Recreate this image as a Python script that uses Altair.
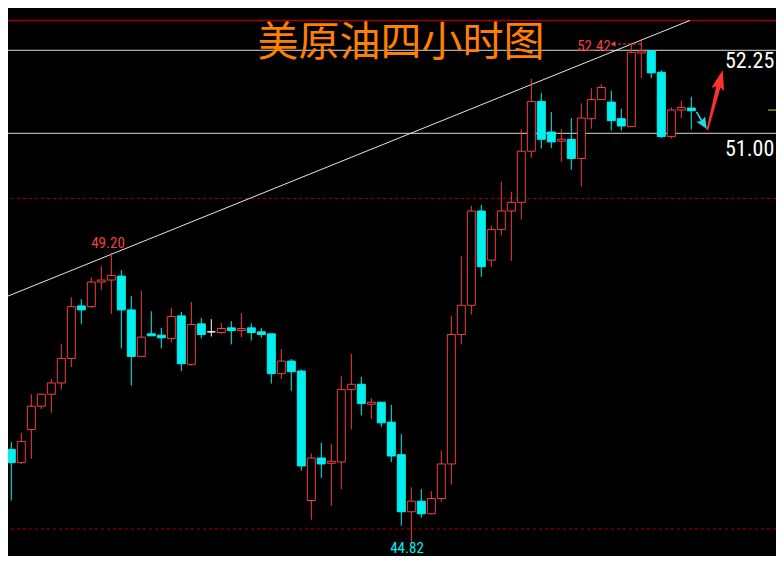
import altair as alt
import pandas as pd

# ---- candle data (4-hour bars, US crude) ----
opens = [45.99, 46.24, 46.04, 46.54, 46.89, 47.07, 47.24, 47.61, 48.40, 48.39,
         48.76, 48.79, 48.85, 48.34, 47.64, 47.98, 47.96, 47.91, 48.25, 47.52,
         48.13, 48.01, 48.00, 48.07, 48.03, 48.07, 48.01, 47.98, 47.38, 47.57,
         47.42, 45.47, 46.11, 46.03, 46.05, 47.14, 47.22, 46.92, 46.95, 46.65,
         46.16, 45.30, 45.46, 45.27, 45.50, 46.02, 47.97, 48.41, 49.83, 49.09,
         49.55, 49.83, 49.96, 50.73, 51.48, 51.02, 50.88, 50.91, 50.62, 51.22,
         51.51, 51.47, 51.22, 51.10, 52.21, 52.24, 51.92, 50.95, 51.35, 51.38]
highs = [46.42, 46.35, 46.49, 47.07, 47.08, 47.30, 47.83, 48.53, 48.50, 48.83,
         49.00, 49.20, 48.94, 48.55, 48.63, 48.32, 48.07, 48.37, 48.31, 48.46,
         48.22, 48.20, 48.14, 48.17, 48.29, 48.14, 48.07, 47.98, 47.75, 47.60,
         47.44, 46.18, 46.34, 46.32, 47.34, 47.68, 47.33, 47.01, 46.95, 46.91,
         46.47, 45.67, 45.64, 45.61, 46.22, 48.25, 49.15, 49.91, 49.92, 49.61,
         50.27, 50.12, 51.06, 51.82, 51.61, 51.32, 51.06, 51.23, 51.45, 51.68,
         51.74, 51.64, 51.37, 52.35, 52.42, 52.24, 51.95, 51.39, 51.49, 51.55]
lows = [45.85, 45.47, 46.02, 46.10, 46.85, 46.79, 47.14, 47.48, 48.13, 48.37,
        48.64, 48.28, 47.76, 47.20, 47.64, 47.95, 47.76, 47.85, 47.42, 47.50,
        47.91, 47.94, 47.98, 47.82, 47.93, 47.88, 47.92, 47.23, 47.30, 47.12,
        45.92, 45.18, 45.81, 45.39, 45.64, 46.54, 46.75, 46.70, 46.58, 46.05,
        45.09, 44.82, 45.21, 45.26, 45.45, 45.71, 47.82, 48.27, 48.84, 48.99,
        49.46, 49.08, 49.70, 50.63, 50.77, 50.78, 50.57, 50.45, 50.20, 51.07,
        51.51, 51.04, 51.04, 51.10, 51.83, 51.83, 50.93, 50.92, 51.23, 51.06]
closes = [46.24, 46.04, 46.36, 46.89, 47.07, 47.24, 47.61, 48.39, 48.34, 48.76,
          48.79, 48.86, 48.34, 47.64, 47.93, 47.95, 47.92, 48.24, 47.53, 48.12,
          47.97, 48.01, 48.06, 48.03, 48.06, 48.00, 47.97, 47.38, 47.57, 47.41,
          45.99, 46.11, 46.02, 46.06, 47.14, 47.22, 46.93, 46.95, 46.64, 46.14,
          45.30, 45.46, 45.27, 45.50, 46.02, 47.97, 48.41, 49.83, 48.99, 49.55,
          49.83, 49.96, 50.73, 51.48, 50.91, 50.87, 50.91, 50.62, 51.23, 51.51,
          51.69, 51.19, 51.11, 52.22, 52.24, 51.91, 50.95, 51.35, 51.39, 51.34]

# ---- reference levels and annotations ----
white_levels = [52.25, 51.00]
red_dotted_levels = [50.02, 45.04]
top_red_level = [52.70]
trend_x = [-0.13, 68.87]
trend_y = [48.50, 52.70]
yellow_x = [76.67]
yellow_x2 = [77.47]
yellow_y = [51.35]

title_text = ["美原油四小时图"]
title_x = [39.97]
title_y = [52.345]

level_text = ["52.25", "51.00"]
level_x = [72.37, 72.37]
level_y = [52.089, 50.76]

red_text = ["49.20", "52.42"]
red_x = [10.67, 59.27]
red_y = [49.355, 52.322]

cyan_text = ["44.82"]
cyan_x = [40.57]
cyan_y = [44.747]

dash_x = [61.17]
dash_x2 = [64.0]
dash_y = [52.345]

red_arrow_x = [71.37]
red_arrow_y = [51.50]
cyan_arrow_x = [70.03]
cyan_arrow_y = [51.193]

RED = "#F04040"
CYAN = "#00F0F0"
WHITE = "#FFFFFF"

dirs = ["up" if c > o else ("down" if c < o else "flat") for o, c in zip(opens, closes)]
df = pd.DataFrame({"i": list(range(len(opens))), "o": opens, "h": highs,
                   "l": lows, "c": closes, "d": dirs})

xs = alt.Scale(domain=[0.67, 77.47], nice=False, zero=False, padding=0)
ys = alt.Scale(domain=[44.634, 52.887], nice=False, zero=False, padding=0)
dir_dom = ["up", "down", "flat"]
stroke_scale = alt.Scale(domain=dir_dom, range=[RED, CYAN, WHITE])
fill_scale = alt.Scale(domain=dir_dom, range=["#000000", CYAN, WHITE])


def X(f):
    return alt.X(f, type="quantitative", scale=xs, axis=None)


def Y(f):
    return alt.Y(f, type="quantitative", scale=ys, axis=None)


top_red = alt.Chart(pd.DataFrame({"p": top_red_level})).mark_rule(
    color="#A00000", strokeWidth=1.5).encode(y=Y("p"))
white_lines = alt.Chart(pd.DataFrame({"p": white_levels})).mark_rule(
    color="#D8D8D8", strokeWidth=1).encode(y=Y("p"))
red_dots = alt.Chart(pd.DataFrame({"p": red_dotted_levels})).mark_rule(
    color="#B00000", strokeWidth=1, strokeDash=[3, 3]).encode(y=Y("p"))
trend = alt.Chart(pd.DataFrame({"x": trend_x, "y": trend_y})).mark_line(
    color="#E6E6E6", strokeWidth=1, clip=True).encode(x=X("x"), y=Y("y"))
yellow = alt.Chart(pd.DataFrame({"x": yellow_x, "x2": yellow_x2, "y": yellow_y})).mark_rule(
    color="#E6C800", strokeWidth=1).encode(x=X("x"), x2="x2", y=Y("y"))

base = alt.Chart(df)
wicks = base.mark_rule(strokeWidth=1, clip=True).encode(
    x=X("i"), y=Y("l"), y2="h",
    stroke=alt.Stroke("d:N", scale=stroke_scale, legend=None))
bodies = base.mark_bar(size=8, strokeWidth=1, clip=True).encode(
    x=X("i"), y=Y("o"), y2="c",
    fill=alt.Fill("d:N", scale=fill_scale, legend=None),
    stroke=alt.Stroke("d:N", scale=stroke_scale, legend=None))

title = alt.Chart(pd.DataFrame({"x": title_x, "y": title_y, "t": title_text})).mark_text(
    font="Noto Sans CJK SC", fontSize=41, color="#FF7F00", align="center", baseline="middle"
).encode(x=X("x"), y=Y("y"), text="t:N")

NARROW = "Liberation Sans Narrow, Roboto Condensed, DejaVu Sans Condensed, sans-serif"
levels = alt.Chart(pd.DataFrame({"x": level_x, "y": level_y, "t": level_text})).mark_text(
    font=NARROW, fontSize=22, color=WHITE, align="left", baseline="middle"
).encode(x=X("x"), y=Y("y"), text="t:N")
red_labels = alt.Chart(pd.DataFrame({"x": red_x, "y": red_y, "t": red_text})).mark_text(
    font=NARROW, fontSize=15, color=RED, align="center", baseline="middle"
).encode(x=X("x"), y=Y("y"), text="t:N")
cyan_labels = alt.Chart(pd.DataFrame({"x": cyan_x, "y": cyan_y, "t": cyan_text})).mark_text(
    font=NARROW, fontSize=15, color=CYAN, align="center", baseline="middle"
).encode(x=X("x"), y=Y("y"), text="t:N")

dash_df = pd.DataFrame({"x": dash_x, "x2": dash_x2, "y": dash_y})
dash_line = alt.Chart(dash_df).mark_rule(
    color=RED, strokeWidth=1, strokeDash=[3, 2]).encode(x=X("x"), x2="x2", y=Y("y"))
dash_head = alt.Chart(dash_df).mark_point(
    shape="triangle-left", filled=True, size=30, color=RED, opacity=1).encode(x=X("x"), y=Y("y"))

RED_ARROW = "M0,-1 L0.21,-0.36 L0.07,-0.44 L0.03,1 L-0.03,1 L-0.07,-0.44 L-0.21,-0.36 Z"
CYAN_ARROW = "M0,-1 L0.5,0.15 L0.08,0.0 L0.08,1 L-0.08,1 L-0.08,0.0 L-0.5,0.15 Z"
red_arrow = alt.Chart(pd.DataFrame({"x": red_arrow_x, "y": red_arrow_y})).mark_point(
    shape=RED_ARROW, filled=True, size=3844, angle=14.4, color="#FF3030", opacity=1,
    strokeWidth=0).encode(x=X("x"), y=Y("y"))
cyan_arrow = alt.Chart(pd.DataFrame({"x": cyan_arrow_x, "y": cyan_arrow_y})).mark_point(
    shape=CYAN_ARROW, filled=True, size=400, angle=149, color="#20D8E0", opacity=1,
    strokeWidth=0).encode(x=X("x"), y=Y("y"))

chart = alt.layer(
    top_red, white_lines, red_dots, trend, yellow,
    wicks, bodies, title, levels, red_labels, cyan_labels,
    dash_line, dash_head, red_arrow, cyan_arrow
).properties(
    width=768, height=548, background="black", padding=0,
    autosize=alt.AutoSizeParams(type="none")
).configure_view(strokeWidth=0)

chart.save("out.html", embed_options={"renderer": "svg", "actions": False})
